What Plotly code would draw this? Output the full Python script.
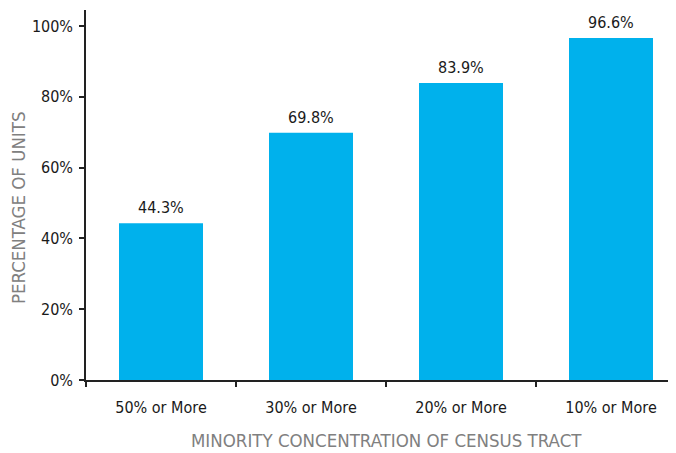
import plotly.graph_objects as go

categories = ["50% or More", "30% or More", "20% or More", "10% or More"]
values = [44.3, 69.8, 83.9, 96.6]
labels = ["44.3%", "69.8%", "83.9%", "96.6%"]
y_ticks = [0, 20, 40, 60, 80, 100]
y_tick_text = ["0%", "20%", "40%", "60%", "80%", "100%"]

FONT = "Liberation Sans Narrow, DejaVu Sans Condensed, Roboto, sans-serif"
OFF = 8  # page body offset
L, T = 86 - OFF, 10 - OFF
PW, PH = 600, 370
W, H = L + PW, 453
B = H - T - PH

fig = go.Figure(go.Bar(
    x=categories, y=values,
    marker=dict(color="#00B1EC", line=dict(width=0)),
    cliponaxis=False,
))

annotations = [
    dict(x=c, y=v, text=t, xref="x", yref="y", showarrow=False,
         xanchor="center", yanchor="bottom", yshift=4,
         font=dict(family=FONT, size=16, color="#1a1a1a"))
    for c, v, t in zip(categories, values, labels)
]
annotations.append(dict(
    text="MINORITY CONCENTRATION OF CENSUS TRACT",
    xref="paper", yref="paper", x=(386 - 86) / PW, y=-(440 - 380) / PH,
    xanchor="center", yanchor="middle", showarrow=False,
    font=dict(family=FONT, size=18.5, color="#808080"),
))
annotations.append(dict(
    text="PERCENTAGE OF UNITS", textangle=-90,
    xref="paper", yref="paper", x=(18 - 86) / PW, y=(380 - 208) / PH,
    xanchor="center", yanchor="middle", showarrow=False,
    font=dict(family=FONT, size=18.5, color="#808080"),
))

fig.update_layout(
    width=W, height=H,
    margin=dict(l=L, r=0, t=T, b=B, autoexpand=False),
    paper_bgcolor="white", plot_bgcolor="white",
    bargap=0.44,
    showlegend=False,
    font=dict(family=FONT, size=16, color="#1a1a1a"),
    xaxis=dict(
        range=[-0.5, 3.5], automargin=False,
        showline=True, linecolor="#222", linewidth=1.5,
        ticks="outside", tickson="boundaries", ticklen=5, tickcolor="#222", tickwidth=1.5,
        ticklabelstandoff=12,
        showgrid=False, tickfont=dict(family=FONT, size=16, color="#1a1a1a"),
    ),
    yaxis=dict(
        range=[0, 104.5], automargin=False,
        tickvals=y_ticks, ticktext=y_tick_text,
        showline=True, linecolor="#222", linewidth=1.5,
        ticks="outside", ticklen=5, tickcolor="#222", tickwidth=1.5,
        ticklabelstandoff=3,
        showgrid=False, zeroline=False,
        tickfont=dict(family=FONT, size=16, color="#1a1a1a"),
    ),
    annotations=annotations,
)

fig.write_html("out.html")
